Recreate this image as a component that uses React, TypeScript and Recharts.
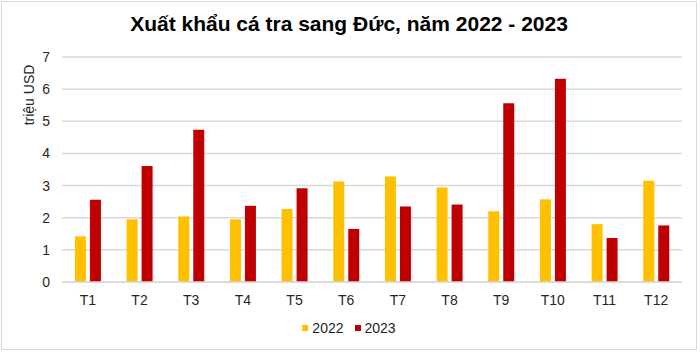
import React from 'react';
import { BarChart, Bar, CartesianGrid, XAxis, YAxis } from 'recharts';

const months = ['T1', 'T2', 'T3', 'T4', 'T5', 'T6', 'T7', 'T8', 'T9', 'T10', 'T11', 'T12'];
const values2022 = [1.42, 1.95, 2.04, 1.95, 2.27, 3.13, 3.28, 2.94, 2.2, 2.57, 1.8, 3.15];
const values2023 = [2.56, 3.61, 4.74, 2.37, 2.92, 1.65, 2.35, 2.41, 5.56, 6.32, 1.37, 1.76];
const yTicks = [0, 1, 2, 3, 4, 5, 6, 7];

const YELLOW = '#FFC000';
const RED = '#C00000';
const FONT = 'Arial, "Liberation Sans", sans-serif';

const data = months.map((m, i) => ({ month: m, y2022: values2022[i], y2023: values2023[i] }));

export default function App() {
  return (
    <div
      style={{
        position: 'absolute',
        left: 1,
        top: 1,
        width: 696,
        height: 349,
        boxSizing: 'border-box',
        border: '1px solid #d9d9d9',
        background: '#fff',
        fontFamily: FONT,
      }}
    >
      <div
        style={{
          position: 'absolute',
          top: 10,
          left: 0,
          width: 694,
          textAlign: 'center',
          fontSize: 21,
          fontWeight: 'bold',
          color: '#000',
        }}
      >
        Xuất khẩu cá tra sang Đức, năm 2022 - 2023
      </div>

      {/* axis title, sits near the top like the excel original */}
      <div
        style={{
          position: 'absolute',
          left: 27,
          top: 93,
          fontSize: 14,
          color: '#262626',
          whiteSpace: 'nowrap',
          transform: 'translate(-50%, -50%) rotate(-90deg)',
        }}
      >
        triệu USD
      </div>

      <BarChart
        width={694}
        height={347}
        data={data}
        margin={{ top: 55, right: 14, bottom: 37, left: 0 }}
        barCategoryGap="25%"
        barGap={4}
      >
        <CartesianGrid stroke="#d9d9d9" strokeWidth={1.5} vertical={false} />
        <XAxis
          dataKey="month"
          height={30}
          axisLine={{ stroke: '#d9d9d9', strokeWidth: 1.5 }}
          tickLine={false}
          tick={{ fill: '#262626', fontSize: 14, fontFamily: FONT }}
          tickMargin={7}
        />
        <YAxis
          width={60}
          domain={[0, 7]}
          ticks={yTicks}
          axisLine={false}
          tickLine={false}
          tick={{ fill: '#262626', fontSize: 14, fontFamily: FONT }}
          tickMargin={6}
        />
        <Bar dataKey="y2022" name="2022" fill={YELLOW} isAnimationActive={false} />
        <Bar dataKey="y2023" name="2023" fill={RED} isAnimationActive={false} />
      </BarChart>

      <div
        style={{
          position: 'absolute',
          top: 318,
          left: 0,
          width: 694,
          display: 'flex',
          justifyContent: 'center',
          gap: 11,
          fontSize: 14,
          color: '#262626',
        }}
      >
        {[
          { label: '2022', color: YELLOW },
          { label: '2023', color: RED },
        ].map((item) => (
          <div key={item.label} style={{ display: 'flex', alignItems: 'center', gap: 4 }}>
            <span style={{ width: 6, height: 6, background: item.color, display: 'inline-block' }} />
            <span>{item.label}</span>
          </div>
        ))}
      </div>
    </div>
  );
}
